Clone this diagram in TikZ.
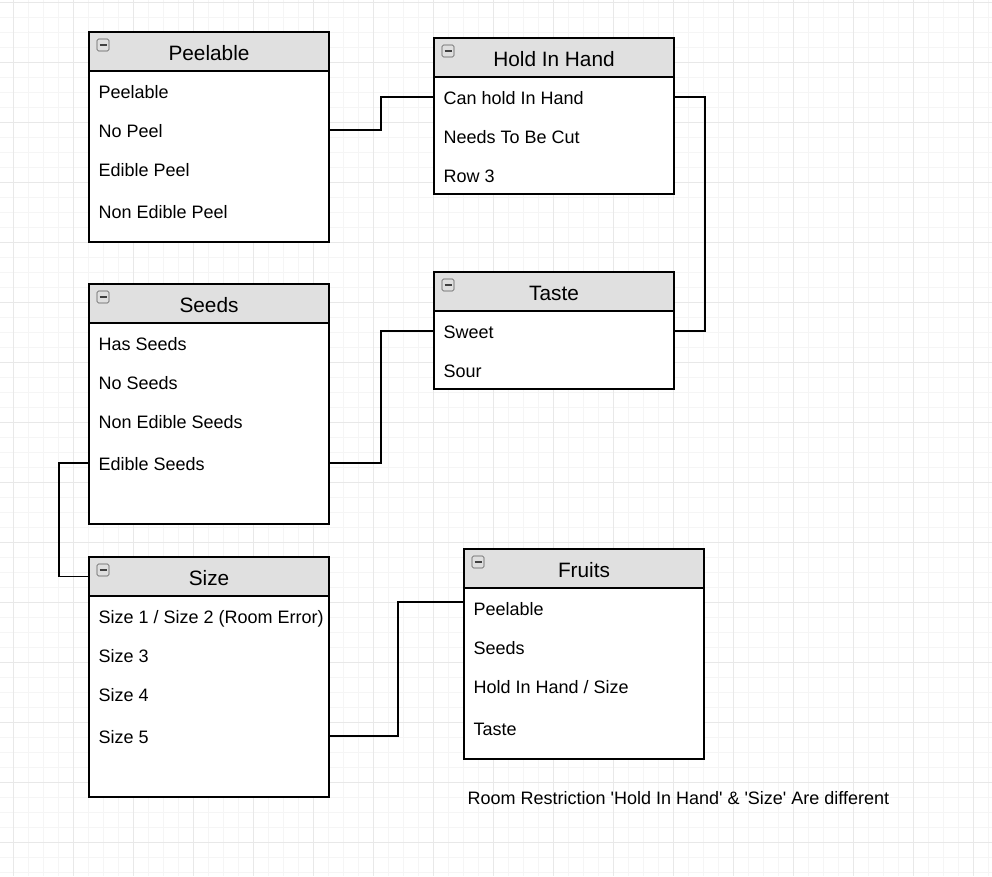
\documentclass[tikz,border=0pt]{standalone}
\usepackage{fontspec}
\setmainfont{Liberation Sans}[Ligatures=TeXOff]
\definecolor{headgray}{HTML}{E0E0E0}
\definecolor{gridminor}{HTML}{F5F5F5}
\definecolor{gridmajor}{HTML}{E8E8E8}
\begin{document}
\begin{tikzpicture}[x=1pt, y=-1pt, line width=1.2pt,
	box/.style={draw, fill=white, minimum width=240pt, anchor=north west, inner sep=0pt, outer sep=0pt},
	head/.style={box, fill=headgray, minimum height=39pt, font=\fontsize{20.8}{24}\selectfont, text height=17pt, text depth=0pt},
	row/.style={anchor=west, inner sep=0pt, font=\fontsize{18}{21}\selectfont, text height=14pt, text depth=0pt},
	minus/.style={draw=gray!70!black, fill=gray!25, rounded corners=1.5pt, minimum size=12pt, inner sep=0pt, line width=0.6pt,
		path picture={\draw[line width=1.5pt, black!75] ([xshift=-3.5pt]path picture bounding box.center) -- ([xshift=3.5pt]path picture bounding box.center);}}]
	\fill[white] (0,0) rectangle (992,876);
	\useasboundingbox (0,0) rectangle (992,876);
	% grid
	\foreach \i in {0,...,65}
		\draw[gridminor, line width=1pt] (13+15*\i,0) -- (13+15*\i,876);
	\foreach \i in {0,...,58}
		\draw[gridminor, line width=1pt] (0,2.7+15*\i) -- (992,2.7+15*\i);
	\foreach \i in {0,...,16}
		\draw[gridmajor, line width=1pt] (13+60*\i,0) -- (13+60*\i,876);
	\foreach \i in {0,...,14}
		\draw[gridmajor, line width=1pt] (0,2.7+60*\i) -- (992,2.7+60*\i);

	% Peelable
	\node[box, minimum height=210pt] (peel) at (89,32) {};
	\node[head] (peel-h) at (peel.north west) {Peelable};
	\node[minus] (peel-m) at ([shift={(14,13)}]peel.north west) {};
	\foreach \y/\t [count=\i] in {91/Peelable, 130/No Peel, 169/Edible Peel, 211/Non Edible Peel}
		\node[row] (peel-\i) at (98,\y) {\t};

	% Hold In Hand
	\node[box, minimum height=156pt] (hold) at (434,38) {};
	\node[head] (hold-h) at (hold.north west) {Hold In Hand};
	\node[minus] (hold-m) at ([shift={(14,13)}]hold.north west) {};
	\foreach \y/\t [count=\i] in {97/Can hold In Hand, 136/Needs To Be Cut, 175/Row 3}
		\node[row] (hold-\i) at (443,\y) {\t};

	% Taste
	\node[box, minimum height=117pt] (taste) at (434,272) {};
	\node[head] (taste-h) at (taste.north west) {Taste};
	\node[minus] (taste-m) at ([shift={(14,13)}]taste.north west) {};
	\foreach \y/\t [count=\i] in {331/Sweet, 370/Sour}
		\node[row] (taste-\i) at (443,\y) {\t};

	% Seeds
	\node[box, minimum height=240pt] (seeds) at (89,284) {};
	\node[head] (seeds-h) at (seeds.north west) {Seeds};
	\node[minus] (seeds-m) at ([shift={(14,13)}]seeds.north west) {};
	\foreach \y/\t [count=\i] in {343/Has Seeds, 382/No Seeds, 421/Non Edible Seeds, 463/Edible Seeds}
		\node[row] (seeds-\i) at (98,\y) {\t};

	% Size
	\node[box, minimum height=240pt] (size) at (89,557) {};
	\node[head] (size-h) at (size.north west) {Size};
	\node[minus] (size-m) at ([shift={(14,13)}]size.north west) {};
	\foreach \y/\t [count=\i] in {616/{Size 1 / Size 2 (Room Error)}, 655/Size 3, 694/Size 4, 736/Size 5}
		\node[row] (size-\i) at (98,\y) {\t};

	% Fruits
	\node[box, minimum height=210pt] (fruits) at (464,549) {};
	\node[head] (fruits-h) at (fruits.north west) {Fruits};
	\node[minus] (fruits-m) at ([shift={(14,13)}]fruits.north west) {};
	\foreach \y/\t [count=\i] in {608/Peelable, 647/Seeds, 686/{Hold In Hand / Size}, 728/Taste}
		\node[row] (fruits-\i) at (473,\y) {\t};

	\node[row] (note) at (467,797) {Room Restriction 'Hold In Hand' \& 'Size' Are different};

	% links
	\draw (peel.east |- peel-2) -- ++(52,0) |- (hold.west |- hold-1);
	\draw (hold.east |- hold-1) -- ++(31,0) |- (taste.east |- taste-1);
	\draw (seeds.east |- seeds-4) -- ++(52,0) |- (taste.west |- taste-1);
	\draw (seeds.west |- seeds-4) -- ++(-30,0) |- (size-h.west);
	\draw (size.east |- size-4) -- ++(69,0) |- ([yshift=-14pt]fruits-h.south west);
\end{tikzpicture}
\end{document}
